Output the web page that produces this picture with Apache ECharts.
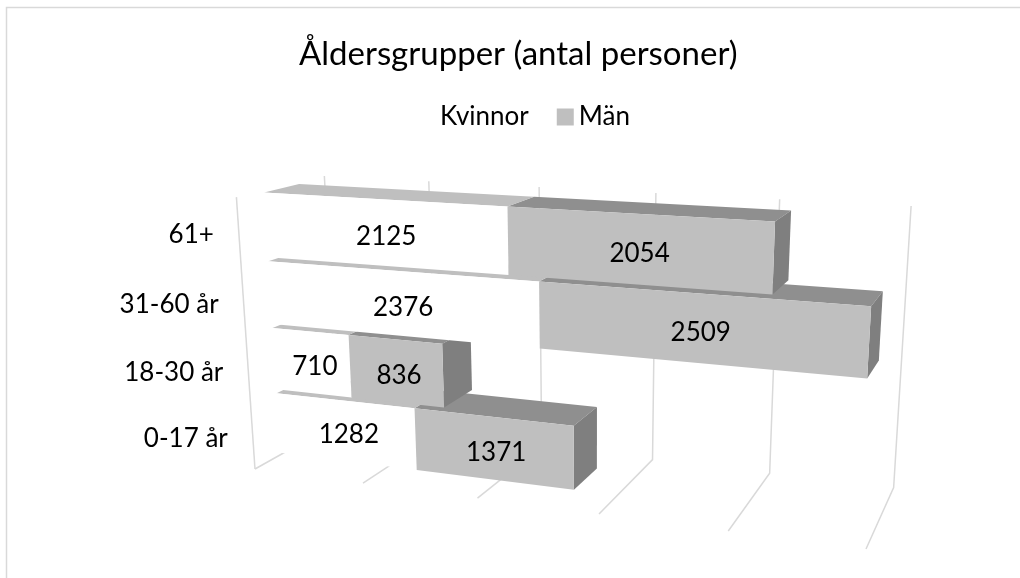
<!DOCTYPE html>
<html>
<head>
<meta charset="utf-8">
<style>
  html, body { margin: 0; padding: 0; background: #fff; }
  #main { width: 1020px; height: 578px; }
</style>
<script src="https://cdn.jsdelivr.net/npm/echarts@6/dist/echarts.min.js"></script>
</head>
<body>
<div id="main"></div>
<script>
var categories = ['0-17 år', '18-30 år', '31-60 år', '61+'];
var kvinnor = [1282, 710, 2376, 2125];
var man = [1371, 836, 2509, 2054];
var xTicks = [0, 1000, 2000, 3000, 4000, 5000];

var FONT = 'Lato';
var GRID_COLOR = '#d9d9d9';

// faces of a bar: front, top, side
var kvinnorFaces = ['#ffffff', '#bfbfbf', '#ffffff'];
var manFaces = ['#bfbfbf', '#8f8f8f', '#7f7f7f'];

// depth of the bars inside the floor, and how much of a band they fill
var barFrontZ = 0.29;
var barBackZ = 0.69;
var barFill = 0.94;

// perspective camera, read off the corners of the picture
// t along the value axis, h up the chart, z into the chart, all 0..1
function project(t, h, z) {
    var w = 1 - 0.141 * t - 0.0525 * h + 0.1047 * z;
    return [
        (255 + 488.9 * t - 31 * h + 117.3 * z) / w,
        (469 + 2.6 * t - 282.2 * h - 1.68 * z) / w
    ];
}

function toUnit(params, px) {
    var cs = params.coordSys;
    return [(px[0] - cs.x) / cs.width, (cs.y + cs.height - px[1]) / cs.height];
}

function face(points, color) {
    return {type: 'polygon', shape: {points: points}, style: {fill: color}, silent: true};
}

function renderGridLine(params, api) {
    var v = api.value(0);
    var t = toUnit(params, api.coord([v, 0]))[0];
    var style = {stroke: GRID_COLOR, lineWidth: 1.5, fill: null};
    var kids = [{
        type: 'polyline',
        shape: {points: [project(t, 0, 0), project(t, 0, 1), project(t, 1, 1)]},
        style: style
    }];
    if (v === 0) {
        kids.push({type: 'polyline', shape: {points: [project(t, 0, 0), project(t, 1, 0)]}, style: style});
    }
    return {type: 'group', children: kids};
}

function renderCategoryLabel(params, api) {
    var idx = api.value(0);
    var mid = toUnit(params, api.coord([0, idx]));
    var p = project(0, mid[1], 0);
    return {
        type: 'text',
        x: p[0] - 25,
        y: p[1] + 2,
        style: {
            text: categories[idx],
            fontFamily: FONT,
            fontSize: 26,
            fill: '#000',
            align: 'right',
            verticalAlign: 'middle'
        }
    };
}

function makeBarRenderer(faces) {
    return function (params, api) {
        var start = toUnit(params, api.coord([api.value(0), api.value(2)]));
        var end = toUnit(params, api.coord([api.value(1), api.value(2)]));
        var half = toUnit(params, [0, params.coordSys.y + params.coordSys.height - api.size([0, 1])[1] / 2])[1] * barFill;
        var t0 = start[0], t1 = end[0];
        var hLow = start[1] - half, hTop = start[1] + half;
        var zf = barFrontZ, zb = barBackZ;
        var c = project((t0 + t1) / 2, start[1], zf);
        return {
            type: 'group',
            children: [
                face([project(t0, hTop, zb), project(t1, hTop, zb), project(t1, hTop, zf), project(t0, hTop, zf)], faces[1]),
                face([project(t1, hTop, zf), project(t1, hTop, zb), project(t1, hLow, zb), project(t1, hLow, zf)], faces[2]),
                face([project(t0, hTop, zf), project(t1, hTop, zf), project(t1, hLow, zf), project(t0, hLow, zf)], faces[0]),
                {
                    type: 'text',
                    x: c[0] + 3,
                    y: c[1] + 4,
                    style: {
                        text: String(api.value(1) - api.value(0)),
                        fontFamily: FONT,
                        fontSize: 26,
                        fill: '#000',
                        align: 'center',
                        verticalAlign: 'middle'
                    }
                }
            ]
        };
    };
}

// bars have to go on bottom-up, an upper bar hides the top of the one below
var series = [
    {
        type: 'custom',
        name: 'grid',
        z: 1,
        silent: true,
        renderItem: renderGridLine,
        encode: {x: 0},
        data: xTicks.map(function (v) { return [v]; })
    },
    {
        type: 'custom',
        name: 'labels',
        z: 1,
        silent: true,
        renderItem: renderCategoryLabel,
        encode: {y: 0},
        data: categories.map(function (c, i) { return [i]; })
    }
];
categories.forEach(function (c, i) {
    series.push({
        type: 'custom',
        name: 'Kvinnor',
        z: 2 + i * 2,
        silent: true,
        itemStyle: {color: kvinnorFaces[0]},
        renderItem: makeBarRenderer(kvinnorFaces),
        encode: {x: [0, 1], y: 2},
        data: [[0, kvinnor[i], i]]
    });
    series.push({
        type: 'custom',
        name: 'Män',
        z: 3 + i * 2,
        silent: true,
        itemStyle: {color: manFaces[0]},
        renderItem: makeBarRenderer(manFaces),
        encode: {x: [0, 1], y: 2},
        data: [[kvinnor[i], kvinnor[i] + man[i], i]]
    });
});

var chart = echarts.init(document.getElementById('main'));
chart.setOption({
    animation: false,
    backgroundColor: '#fff',
    title: {
        text: 'Åldersgrupper (antal personer)',
        left: 294,
        top: 33,
        textStyle: {fontFamily: FONT, fontSize: 33, fontWeight: 'normal', color: '#000'}
    },
    legend: {
        data: ['Kvinnor', 'Män'],
        left: 413,
        top: 99,
        icon: 'rect',
        itemWidth: 17,
        itemHeight: 17,
        itemGap: 28,
        selectedMode: false,
        textStyle: {fontFamily: FONT, fontSize: 26, color: '#000'}
    },
    grid: {left: 100, right: 100, top: 100, bottom: 100},
    xAxis: {type: 'value', min: 0, max: 5000, interval: 1000, show: false},
    yAxis: {type: 'category', data: categories, show: false},
    graphic: [
        {type: 'polyline', z: 0, silent: true, shape: {points: [[6.5, 578], [6.5, 7.5], [1020, 7.5]]},
            style: {stroke: GRID_COLOR, lineWidth: 1.5, fill: null}}
    ],
    series: series
});
</script>
</body>
</html>
